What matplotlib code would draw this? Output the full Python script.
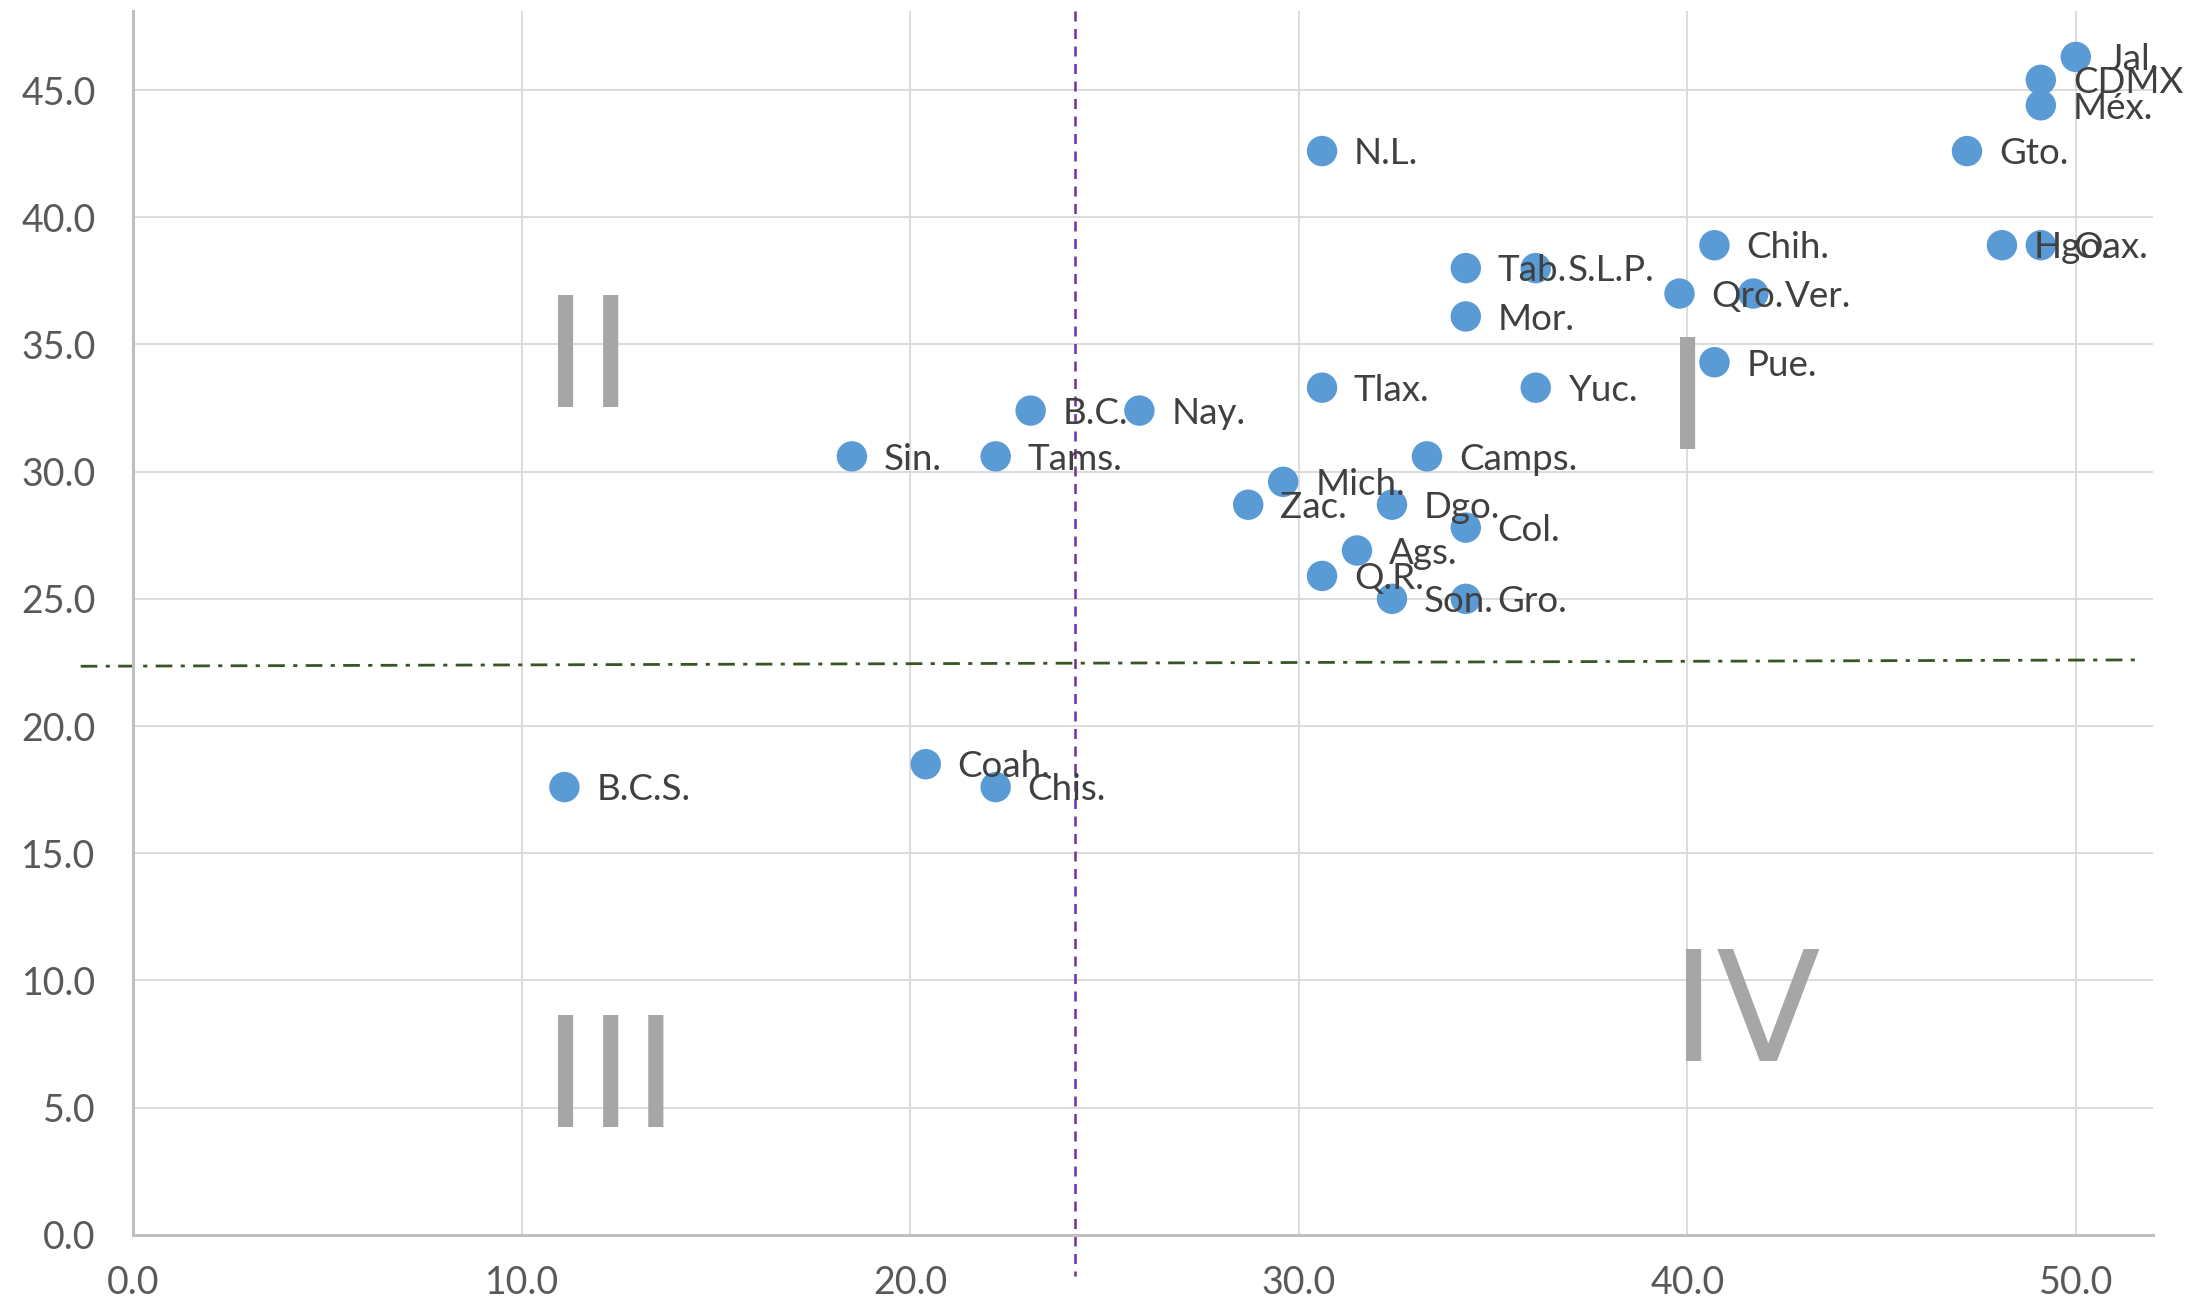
import matplotlib
matplotlib.use('Agg')
import matplotlib.pyplot as plt
import numpy as np

# states: name, x, y
names = ['Jal.', 'CDMX', 'Méx.', 'Gto.', 'N.L.', 'Chih.', 'Hgo.', 'Oax.',
         'Tab.', 'S.L.P.', 'Qro.', 'Ver.', 'Mor.', 'Pue.', 'Tlax.', 'Yuc.',
         'B.C.', 'Nay.', 'Sin.', 'Tams.', 'Camps.', 'Mich.', 'Zac.', 'Dgo.',
         'Col.', 'Ags.', 'Q.R.', 'Son.', 'Gro.', 'Coah.', 'Chis.', 'B.C.S.']
xs = [50.0, 49.1, 49.1, 47.2, 30.6, 40.7, 48.1, 49.1,
      34.3, 36.1, 39.8, 41.7, 34.3, 40.7, 30.6, 36.1,
      23.1, 25.9, 18.5, 22.2, 33.3, 29.6, 28.7, 32.4,
      34.3, 31.5, 30.6, 32.4, 34.3, 20.4, 22.2, 11.1]
ys = [46.3, 45.4, 44.4, 42.6, 42.6, 38.9, 38.9, 38.9,
      38.0, 38.0, 37.0, 37.0, 36.1, 34.3, 33.3, 33.3,
      32.4, 32.4, 30.6, 30.6, 30.6, 29.6, 28.7, 28.7,
      27.8, 26.9, 25.9, 25.0, 25.0, 18.5, 17.6, 17.6]

x_ref = 24.25                # vertical reference (dashed)
h_ref = [22.35, 22.6]        # horizontal reference at its two ends
h_ref_x = [-1.35, 51.6]

quadrants = ['I', 'II', 'III', 'IV']
quad_x = [40.0, 11.7, 12.3, 41.5]
quad_y = [32.55, 34.2, 5.9, 8.5]

plt.rcParams['font.family'] = ['Lato', 'DejaVu Sans']

fig = plt.figure(figsize=(21.97, 13.12), dpi=100)
ax = fig.add_axes([0.0606, 0.0588, 0.9196, 0.9327])

ax.set_xlim(0, 52)
ax.set_ylim(0, 48.1)
ax.set_xticks(np.arange(0, 51, 10))
ax.set_yticks(np.arange(0, 46, 5))
ax.xaxis.set_major_formatter(matplotlib.ticker.FormatStrFormatter('%.1f'))
ax.yaxis.set_major_formatter(matplotlib.ticker.FormatStrFormatter('%.1f'))
ax.tick_params(axis='both', length=0, labelsize=27, colors='#595959')
ax.tick_params(axis='y', pad=27)
ax.tick_params(axis='x', pad=22)
ax.grid(True, color='#D9D9D9', linewidth=1.3)
ax.set_axisbelow(True)
for s in ['top', 'right']:
    ax.spines[s].set_visible(False)
for s in ['left', 'bottom']:
    ax.spines[s].set_color('#BFBFBF')
    ax.spines[s].set_linewidth(2.2)

# quadrant numerals
for q, qx, qy in zip(quadrants, quad_x, quad_y):
    ax.text(qx, qy, q, fontsize=110, color='#A6A6A6', ha='center', va='center',
            family='DejaVu Sans', zorder=1)

# reference lines
ax.plot([x_ref, x_ref], [48.1, -1.6], color='#7030A0', linestyle=(0, (4, 3)),
        linewidth=1.8, clip_on=False, zorder=2)
ax.plot(h_ref_x, h_ref, color='#375623', linestyle=(0, (6, 3, 1.5, 3)),
        linewidth=2.0, clip_on=False, zorder=2)

ax.scatter(xs, ys, s=480, color='#5B9BD5', edgecolors='none', zorder=3)
for n, x, y in zip(names, xs, ys):
    ax.annotate(n, (x, y), xytext=(23, -2), textcoords='offset points',
                fontsize=26.5, color='#404040', va='center', ha='left',
                zorder=4, annotation_clip=False)

plt.savefig('out.png', dpi=100)
